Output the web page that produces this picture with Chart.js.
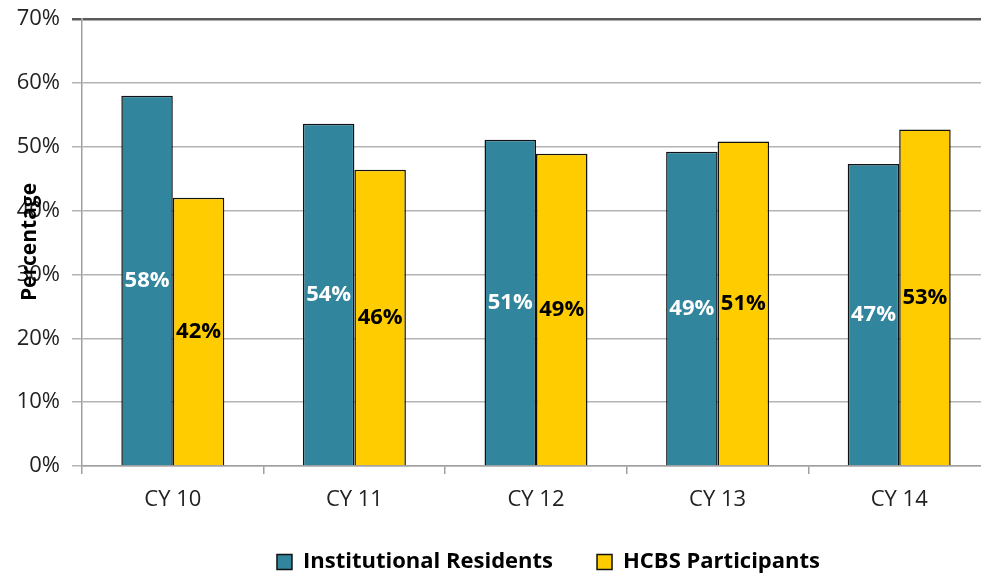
<!DOCTYPE html>
<html>
<head>
<meta charset="utf-8">
<script src="https://cdn.jsdelivr.net/npm/chart.js@4.4.1/dist/chart.umd.min.js"></script>
<style>
  html, body { margin: 0; padding: 0; background: #fff; overflow: hidden; }
  #wrap { width: 1097px; height: 573px; }
</style>
</head>
<body>
<div id="wrap"><canvas id="chart" width="1097" height="573"></canvas></div>
<script>
const years = ['CY 10', 'CY 11', 'CY 12', 'CY 13', 'CY 14']
const institutional = [58.0, 53.6, 51.1, 49.2, 47.3]
const hcbs = [42.0, 46.4, 48.9, 50.8, 52.7]

const TEAL = '#31859C'
const GOLD = '#FFCC00'
const FONT = "'Open Sans', 'Noto Sans', sans-serif"

// labels in the middle of each bar
const barLabels = {
    id: 'barLabels',
    afterDatasetsDraw(chart) {
        const ctx = chart.ctx
        ctx.save()
        ctx.font = 'bold 22px ' + FONT
        ctx.textAlign = 'center'
        ctx.textBaseline = 'middle'
        chart.data.datasets.forEach((ds, i) => {
            const meta = chart.getDatasetMeta(i)
            meta.data.forEach((bar, j) => {
                ctx.fillStyle = i === 0 ? '#ffffff' : '#000000'
                ctx.fillText(Math.round(ds.data[j]) + '%', bar.x, (bar.y + bar.base) / 2)
            })
        })
        ctx.restore()
    }
}

// y axis title, sits on top of the tick labels like the original
const yTitle = {
    id: 'yTitle',
    afterDraw(chart) {
        const ctx = chart.ctx
        ctx.save()
        ctx.translate(30, 242)
        ctx.rotate(-Math.PI / 2)
        ctx.font = 'bold 21px ' + FONT
        ctx.fillStyle = '#000'
        ctx.textAlign = 'center'
        ctx.textBaseline = 'middle'
        ctx.fillText('Percentage', 0, 0)
        ctx.restore()
    }
}

new Chart(document.getElementById('chart'), {
    type: 'bar',
    data: {
        labels: years,
        datasets: [
            { label: 'Institutional Residents', data: institutional, backgroundColor: TEAL, borderColor: '#111', borderWidth: 1.5 },
            { label: 'HCBS Participants', data: hcbs, backgroundColor: GOLD, borderColor: '#111', borderWidth: 1.5 }
        ]
    },
    options: {
        responsive: false,
        animation: false,
        devicePixelRatio: 1,
        layout: { padding: { top: 19, left: 0, right: 0, bottom: -10 } },
        datasets: { bar: { categoryPercentage: 0.567, barPercentage: 1 } },
        plugins: {
            tooltip: { enabled: false },
            legend: {
                position: 'bottom',
                labels: {
                    color: '#000',
                    font: { family: FONT, size: 22, weight: 'bold' },
                    boxWidth: 15,
                    boxHeight: 15,
                    padding: 44,
                    useBorderRadius: false
                }
            }
        },
        scales: {
            x: {
                afterFit: s => { s.height = 41 },
                grid: { offset: true, drawOnChartArea: false, drawTicks: true, tickLength: 8, color: '#A0A0A0', lineWidth: 1.5 },
                border: { color: '#A0A0A0', width: 1.5 },
                ticks: { color: '#222', font: { family: FONT, size: 22 }, padding: 13 }
            },
            y: {
                min: 0,
                max: 70,
                afterFit: s => {
                    s.width = 82
                    s.paddingTop = 0
                    s.paddingBottom = 0
                },
                grid: {
                    color: c => c.tick && c.tick.value === 70 ? '#5A5A5A' : '#B4B4B4',
                    lineWidth: c => c.tick && c.tick.value === 70 ? 2.5 : 1.5,
                    tickLength: 10
                },
                border: { color: '#A0A0A0', width: 1.5 },
                ticks: {
                    stepSize: 10,
                    color: '#222',
                    font: { family: FONT, size: 22 },
                    padding: 12,
                    callback: v => v + '%'
                }
            },
            yRight: {
                position: 'right',
                afterFit: s => { s.width = 107 },
                grid: { display: false },
                border: { display: false },
                ticks: { display: false }
            }
        }
    },
    plugins: [barLabels, yTitle]
})
</script>
</body>
</html>
